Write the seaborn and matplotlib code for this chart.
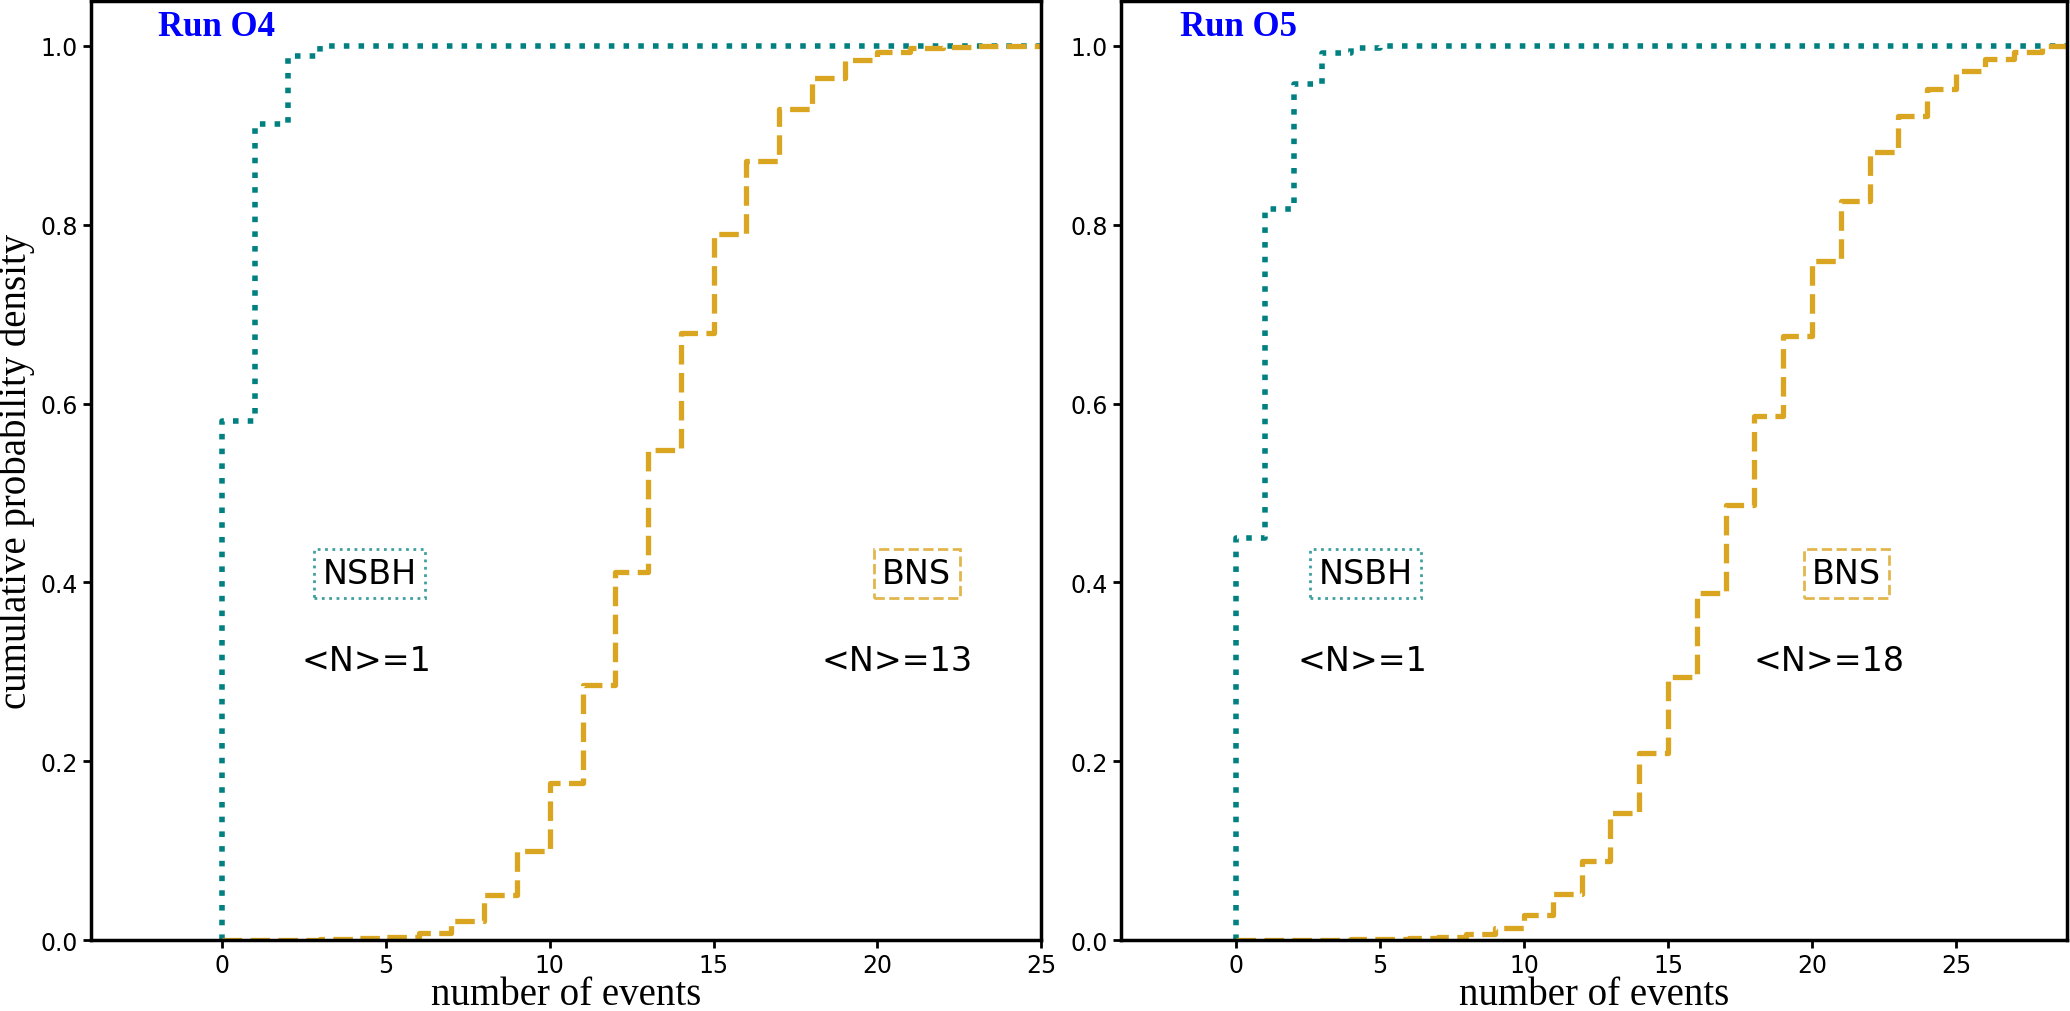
import matplotlib
matplotlib.use("Agg")
import matplotlib.pyplot as plt
import seaborn as sns
import pandas as pd

# number of events (integer bins)
n_events = list(range(31))

# cumulative probability, one value per bin
nsbh_o4 = [0.58, 0.912, 0.988, 1.0, 1.0, 1.0, 1.0, 1.0, 1.0, 1.0,
           1.0, 1.0, 1.0, 1.0, 1.0, 1.0, 1.0, 1.0, 1.0, 1.0,
           1.0, 1.0, 1.0, 1.0, 1.0, 1.0, 1.0, 1.0, 1.0, 1.0, 1.0]
bns_o4 = [0.0, 0.0, 0.0005, 0.001, 0.002, 0.004, 0.008, 0.021, 0.05, 0.10,
          0.176, 0.285, 0.412, 0.548, 0.679, 0.789, 0.871, 0.929, 0.964, 0.984,
          0.993, 0.997, 0.999, 1.0, 1.0, 1.0, 1.0, 1.0, 1.0, 1.0, 1.0]
nsbh_o5 = [0.45, 0.817, 0.957, 0.992, 0.998, 1.0, 1.0, 1.0, 1.0, 1.0,
           1.0, 1.0, 1.0, 1.0, 1.0, 1.0, 1.0, 1.0, 1.0, 1.0,
           1.0, 1.0, 1.0, 1.0, 1.0, 1.0, 1.0, 1.0, 1.0, 1.0, 1.0]
bns_o5 = [0.0, 0.0, 0.0, 0.0005, 0.001, 0.001, 0.002, 0.0035, 0.007, 0.014,
          0.028, 0.052, 0.089, 0.142, 0.209, 0.294, 0.388, 0.487, 0.586, 0.676,
          0.759, 0.826, 0.881, 0.922, 0.952, 0.972, 0.985, 0.993, 1.0, 1.0, 1.0]

runs = ["Run O4", "Run O5"]
mean_nsbh = [1, 1]
mean_bns = [13, 18]
x_right = [25, 28.85]

TEAL = "#008080"
GOLD = "#DAA520"

sns.set_style("ticks", {"axes.edgecolor": "black", "xtick.color": "black",
                        "ytick.color": "black", "text.color": "black",
                        "axes.labelcolor": "black"})
plt.rcParams["font.family"] = ["DejaVu Sans"]


def step_frame(values):
    # start the outline at zero on the left bin edge
    return pd.DataFrame({"n": [n_events[0]] + n_events, "cdf": [0.0] + values})


def draw_panel(ax, nsbh, bns, run, n_nsbh, n_bns, xmax):
    sns.lineplot(data=step_frame(nsbh), x="n", y="cdf", ax=ax, estimator=None,
                 sort=False, drawstyle="steps-post", color=TEAL,
                 linestyle=":", linewidth=4)
    sns.lineplot(data=step_frame(bns), x="n", y="cdf", ax=ax, estimator=None,
                 sort=False, drawstyle="steps-post", color=GOLD,
                 linestyle="--", linewidth=3.8)
    ax.set_xlim(-4, xmax)
    ax.set_ylim(0, 1.05)
    ax.set_xticks([0, 5, 10, 15, 20, 25])
    ax.set_yticks([0.0, 0.2, 0.4, 0.6, 0.8, 1.0])
    ax.set_yticklabels(["0.0", "0.2", "0.4", "0.6", "0.8", "1.0"])
    ax.tick_params(labelsize=17, width=2, length=6, colors="black")
    for sp in ax.spines.values():
        sp.set_visible(True)
        sp.set_linewidth(2.5)
        sp.set_color("black")
    ax.set_xlabel("number of events", family="Liberation Serif", fontsize=28,
                  labelpad=-1, color="black")
    ax.set_ylabel("")

    ax.text(-1.95, 1.022, run, color="blue", fontsize=25, fontweight="bold",
            family="Liberation Serif", ha="left", va="center")
    ax.text(4.5, 0.41, "NSBH", fontsize=24, ha="center", va="center", color="black",
            bbox=dict(boxstyle="square,pad=0.25", facecolor="white",
                      edgecolor=TEAL, linestyle=":", linewidth=2, alpha=0.75))
    ax.text(4.4, 0.3125, "<N>=%d" % n_nsbh, fontsize=24, ha="center",
            va="center", color="black")
    ax.text(21.2, 0.41, "BNS", fontsize=24, ha="center", va="center", color="black",
            bbox=dict(boxstyle="square,pad=0.25", facecolor="white",
                      edgecolor=GOLD, linestyle="--", linewidth=2, alpha=0.8))
    ax.text(20.6, 0.3125, "<N>=%d" % n_bns, fontsize=24, ha="center",
            va="center", color="black")


fig = plt.figure(figsize=(20.7, 10.12), dpi=100)
ax1 = fig.add_axes([0.044, 0.07, 0.459, 0.928])
ax2 = fig.add_axes([0.5415, 0.07, 0.457, 0.928])

draw_panel(ax1, nsbh_o4, bns_o4, runs[0], mean_nsbh[0], mean_bns[0], x_right[0])
draw_panel(ax2, nsbh_o5, bns_o5, runs[1], mean_nsbh[1], mean_bns[1], x_right[1])
ax1.set_ylabel("cumulative probability density", family="Liberation Serif",
               fontsize=28, labelpad=4, color="black")

fig.savefig("out.png", dpi=100)
